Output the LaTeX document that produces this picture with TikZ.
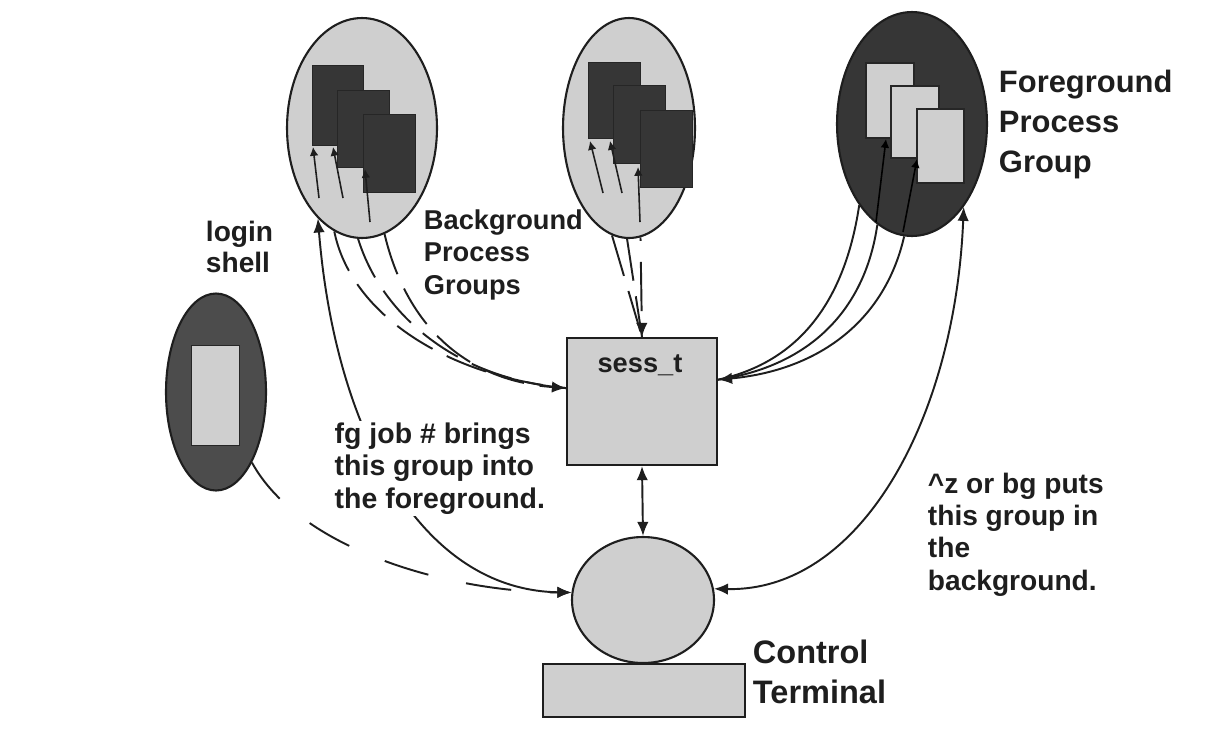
\documentclass[tikz,border=0pt]{standalone}
\usepackage{fontspec}
\setmainfont{Liberation Sans}
\usetikzlibrary{shapes.geometric,arrows.meta}
\definecolor{lightfill}{HTML}{CFCFCF}
\definecolor{darkfill}{HTML}{363636}
\definecolor{loginfill}{HTML}{4C4C4C}
\definecolor{ink}{HTML}{1E1E1E}
\begin{document}
\begin{tikzpicture}[x=0.02cm,y=-0.02cm,line width=1.1pt,draw=ink,
  grp/.style={ellipse,draw=ink,line width=1.2pt,inner sep=0pt},
  procdark/.style={rectangle,fill=darkfill,draw=black!85,line width=0.6pt,anchor=north west,inner sep=0pt},
  proclight/.style={rectangle,fill=lightfill,draw=black!85,line width=1.4pt,anchor=north west,inner sep=0pt},
  tip/.style={-{Latex[length=8pt,width=6.5pt]}},
  twotip/.style={{Latex[length=8pt,width=6.5pt]}-{Latex[length=8pt,width=6.5pt]}},
  smalltip/.style={-{Latex[length=5pt,width=5pt]},line width=0.9pt},
  dashes/.style={dash pattern=on 24pt off 9pt},
  lbl/.style={anchor=base west,align=left,inner sep=0pt,text=ink,font=\bfseries\fontsize{15.5}{18.4}\selectfont}]
\useasboundingbox (0,0) rectangle (1214,735);
\fill[white] (0,0) rectangle (1214,735);

% process group ellipses
\node[grp,fill=lightfill,minimum width=3.0cm,minimum height=4.4cm] (bgA) at (362,128) {};
\node[grp,fill=lightfill,minimum width=2.64cm,minimum height=4.4cm] (bgB) at (629,128) {};
\node[grp,fill=darkfill,minimum width=3.0cm,minimum height=4.48cm] (fgE) at (912,124) {};
\node[grp,fill=loginfill,minimum width=2.0cm,minimum height=3.94cm] (login) at (216,392) {};

% stacked processes
\node[procdark,minimum width=1.02cm,minimum height=1.6cm] (a1) at (312,65) {};
\node[procdark,minimum width=1.04cm,minimum height=1.54cm] (a2) at (337,90) {};
\node[procdark,minimum width=1.04cm,minimum height=1.56cm] (a3) at (363,114) {};
\node[procdark,minimum width=1.04cm,minimum height=1.52cm] (b1) at (588,62) {};
\node[procdark,minimum width=1.04cm,minimum height=1.56cm] (b2) at (613,85) {};
\node[procdark,minimum width=1.04cm,minimum height=1.54cm] (b3) at (640,110) {};
\node[proclight,minimum width=0.96cm,minimum height=1.5cm] (f1) at (865,62) {};
\node[proclight,minimum width=0.96cm,minimum height=1.44cm] (f2) at (890,85) {};
\node[proclight,minimum width=0.94cm,minimum height=1.48cm] (f3) at (916,108) {};
\node[proclight,line width=0.8pt,minimum width=0.96cm,minimum height=2.0cm] (l1) at (191,345) {};

% small arrows inside the groups
\draw[smalltip] (319,198) -- (313,147);
\draw[smalltip] (343,198) -- (333,147);
\draw[smalltip] (370,222) -- (365,169);
\draw[smalltip] (603,193) -- (590,141);
\draw[smalltip] (622,193) -- (610,141);
\draw[smalltip] (640,222) -- (638,167);
\draw[smalltip,draw=black] (876,222) -- (886,139);
\draw[smalltip,draw=black] (903,232) -- (917,159);

% session, terminal
\node[rectangle,draw=ink,line width=1.2pt,fill=lightfill,minimum width=3.0cm,minimum height=2.54cm] (sess) at (642,401.5) {};
\node[lbl,anchor=base] (sesslbl) at (640,372) {sess\_t};
\node[ellipse,draw=ink,line width=1.2pt,fill=lightfill,minimum width=2.84cm,minimum height=2.52cm,inner sep=0pt] (term) at (643,600) {};
\node[rectangle,draw=ink,line width=1.2pt,fill=lightfill,minimum width=4.04cm,minimum height=1.06cm] (tbase) at (644,690.5) {};

% background groups -> sess_t (dashed)
\draw[dashes] (bgA.255) .. controls (350,310) and (440,375) .. (sess.170);
\draw[dashes] (bgA.268) .. controls (380,310) and (450,378) .. (sess.170);
\draw[dashes,tip] (bgA.282) .. controls (405,320) and (460,380) .. (sess.170);
\draw[dashes] (bgB.261) -- (sess.north);
\draw[dashes] (bgB.269) -- (sess.north);
\draw[dash pattern=on 28pt off 12pt,dash phase=-14pt,tip] (bgB.276) -- (sess.north);

% foreground group -> sess_t
\draw (fgE.237) .. controls (845,300) and (800,362) .. (sess.16);
\draw (fgE.251) .. controls (865,310) and (810,366) .. (sess.16);
\draw[tip] (fgE.266) .. controls (885,320) and (820,370) .. (sess.16);

% sess_t <-> terminal
\draw[twotip] (sess.south) -- (term.north);

% login shell -> terminal (dashed)
\draw[dash pattern=on 26pt off 22pt,tip] (login.297) .. controls (300,550) and (450,592) .. (term.174);

% fg / bg arrows
\draw[twotip] (bgA.244) .. controls (335,430) and (420,590) .. (term.174);
\draw[twotip] (fgE.302) .. controls (955,420) and (860,592) .. (term.9);

% labels
\node[lbl,font=\bfseries\fontsize{17.6}{22.7}\selectfont] (fglbl) at (998,172) {Foreground\\Process\\Group};
\node[lbl] (bglbl) at (423,294) {Background\\Process\\Groups};
\node[lbl,fill=white,inner sep=1pt,font=\bfseries\fontsize{16.2}{18.4}\selectfont] (fgjob) at (332,508) {fg job \# brings\\this group into\\the foreground.};
\node[lbl,font=\bfseries\fontsize{16}{18.3}\selectfont] (bgjob) at (927,590) {\textasciicircum z or bg puts\\this group in\\the\\background.};
\node[lbl,font=\bfseries\fontsize{16}{17.5}\selectfont] (loginlbl) at (205,272) {login\\shell};
\node[lbl,font=\bfseries\fontsize{18.5}{22.7}\selectfont] (ctlbl) at (752,703) {Control\\Terminal};
\end{tikzpicture}
\end{document}
